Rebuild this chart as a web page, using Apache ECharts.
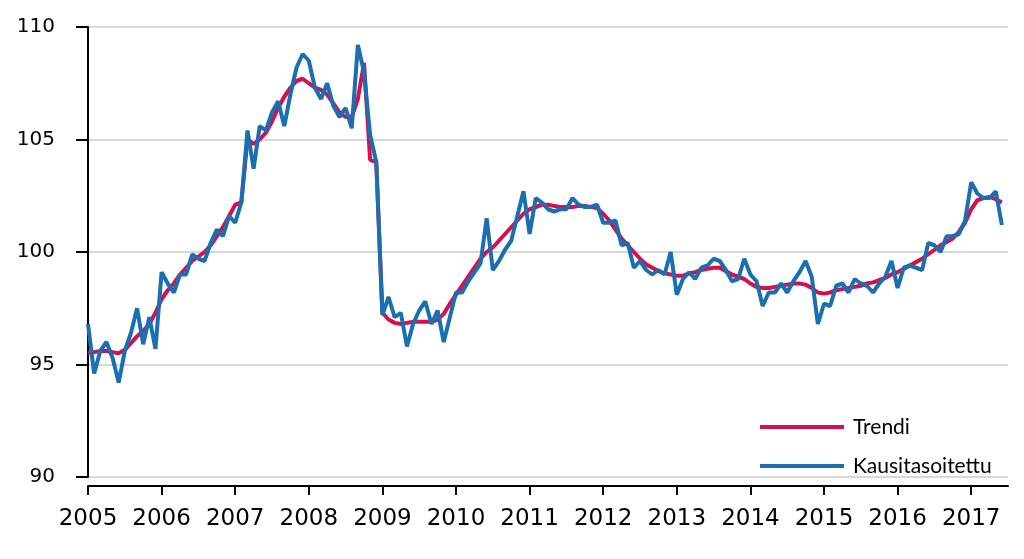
<!DOCTYPE html>
<html>
<head>
<meta charset="utf-8">
<script src="https://cdn.jsdelivr.net/npm/echarts@6/dist/echarts.min.js"></script>
<style>
html,body{margin:0;padding:0;background:#fff;}
#chart{width:1024px;height:559px;}
</style>
</head>
<body>
<div id="chart"></div>
<script>
// Monthly series, January 2005 - June 2017
var startYear = 2005;
var yearTicks = [2005, 2006, 2007, 2008, 2009, 2010, 2011, 2012, 2013, 2014, 2015, 2016, 2017];
var yTicks = [90, 95, 100, 105, 110];
var seriesNames = ['Trendi', 'Kausitasoitettu'];

var trend = [
  95.5, 95.55, 95.6, 95.6, 95.55, 95.5, 95.65, 95.95, 96.25, 96.5, 96.8, 97.3,
  97.9, 98.3, 98.6, 99.0, 99.3, 99.6, 99.8, 100.0, 100.3, 100.7, 101.1, 101.6,
  102.1, 102.2, 105.0, 104.8, 105.0, 105.3, 105.8, 106.4, 106.9, 107.3, 107.6, 107.7,
  107.5, 107.3, 107.2, 107.0, 106.6, 106.2, 106.0, 106.0, 106.8, 108.4, 104.1, 104.0,
  97.3, 97.0, 96.85, 96.8, 96.85, 96.9, 96.9, 96.9, 96.9, 97.0, 97.25, 97.7,
  98.1, 98.5, 98.9, 99.3, 99.7, 100.0, 100.2, 100.5, 100.8, 101.1, 101.4, 101.7,
  101.9, 102.0, 102.1, 102.1, 102.05, 102.0, 102.0, 102.0, 102.05, 102.05, 102.0, 101.95,
  101.7, 101.4, 101.0, 100.6, 100.3, 100.0, 99.7, 99.45, 99.3, 99.15, 99.05, 99.0,
  98.95, 98.95, 99.05, 99.1, 99.2, 99.25, 99.3, 99.3, 99.15, 99.0, 98.9, 98.8,
  98.6, 98.45, 98.4, 98.4, 98.45, 98.5, 98.55, 98.6, 98.6, 98.55, 98.4, 98.2,
  98.15, 98.2, 98.3, 98.35, 98.4, 98.45, 98.5, 98.6, 98.65, 98.75, 98.85, 99.0,
  99.1, 99.25, 99.4, 99.55, 99.7, 99.9, 100.1, 100.3, 100.45, 100.6, 100.9, 101.3,
  101.9, 102.3, 102.4, 102.45, 102.35, 102.2
];

var adjusted = [
  96.8, 94.6, 95.6, 96.0, 95.3, 94.2, 95.6, 96.4, 97.5, 95.9, 97.1, 95.7,
  99.1, 98.6, 98.2, 99.0, 99.0, 99.9, 99.7, 99.6, 100.4, 101.0, 100.7, 101.6,
  101.3, 102.2, 105.4, 103.7, 105.6, 105.4, 106.2, 106.7, 105.6, 107.0, 108.2, 108.8,
  108.5, 107.3, 106.8, 107.5, 106.5, 106.0, 106.4, 105.5, 109.2, 108.0, 105.2, 104.0,
  97.2, 98.0, 97.1, 97.3, 95.8, 96.8, 97.4, 97.8, 96.8, 97.4, 96.0, 97.1,
  98.2, 98.2, 98.7, 99.1, 99.5, 101.5, 99.2, 99.6, 100.1, 100.5, 101.6, 102.7,
  100.8, 102.4, 102.2, 101.9, 101.8, 101.9, 101.9, 102.4, 102.1, 102.0, 102.0, 102.1,
  101.3, 101.3, 101.4, 100.3, 100.4, 99.3, 99.6, 99.2, 99.0, 99.2, 99.0, 100.0,
  98.1, 98.8, 99.1, 98.8, 99.3, 99.4, 99.7, 99.6, 99.2, 98.7, 98.8, 99.7,
  99.0, 98.7, 97.6, 98.2, 98.2, 98.6, 98.2, 98.7, 99.1, 99.6, 98.9, 96.8,
  97.7, 97.6, 98.5, 98.6, 98.2, 98.8, 98.6, 98.5, 98.2, 98.6, 98.9, 99.6,
  98.4, 99.3, 99.4, 99.3, 99.2, 100.4, 100.3, 100.0, 100.7, 100.7, 100.8, 101.4,
  103.1, 102.6, 102.4, 102.4, 102.7, 101.2
];

function toPoints(arr) {
  return arr.map(function (v, i) { return [i, v]; });
}
var monthTicks = yearTicks.map(function (y) { return (y - startYear) * 12; });

var chart = echarts.init(document.getElementById('chart'), null, {renderer: 'canvas'});
chart.setOption({
  animation: false,
  backgroundColor: '#ffffff',
  grid: {left: 88, right: 16, top: 27, bottom: 82, containLabel: false},
  xAxis: {
    type: 'value',
    min: 0,
    max: 150,
    offset: 9,
    axisLine: {show: true, onZero: false, lineStyle: {color: '#000', width: 2}},
    axisTick: {show: true, length: 9, customValues: monthTicks, lineStyle: {color: '#000', width: 2}},
    axisLabel: {
      customValues: monthTicks,
      margin: 22,
      color: '#000',
      fontFamily: 'DejaVu Sans',
      fontSize: 23,
      formatter: function (v) { return String(startYear + Math.round(v / 12)); }
    },
    splitLine: {show: false}
  },
  yAxis: {
    type: 'value',
    min: yTicks[0],
    max: yTicks[yTicks.length - 1],
    interval: 5,
    offset: 6,
    axisLine: {show: true, lineStyle: {color: '#000', width: 2}},
    axisTick: {show: true, length: 12, lineStyle: {color: '#000', width: 2}},
    axisLabel: {margin: 27, color: '#000', fontFamily: 'DejaVu Sans', fontSize: 20},
    splitLine: {show: true, lineStyle: {color: '#d8d8d8', width: 2}}
  },
  legend: {
    orient: 'vertical',
    left: 755,
    top: 410,
    icon: 'rect',
    itemWidth: 84,
    itemHeight: 4,
    itemGap: 15,
    textStyle: {fontFamily: 'Lato', fontSize: 21, color: '#000', lineHeight: 24, padding: [0, 0, 0, 4]},
    data: seriesNames
  },
  series: [
    {
      name: seriesNames[0],
      type: 'line',
      data: toPoints(trend),
      showSymbol: false,
      symbol: 'none',
      color: '#d6104f',
      lineStyle: {color: '#d6104f', width: 4},
      z: 2
    },
    {
      name: seriesNames[1],
      type: 'line',
      data: toPoints(adjusted),
      showSymbol: false,
      symbol: 'none',
      color: '#1a6fb0',
      lineStyle: {color: '#1a6fb0', width: 4},
      z: 3
    }
  ]
});
</script>
</body>
</html>
